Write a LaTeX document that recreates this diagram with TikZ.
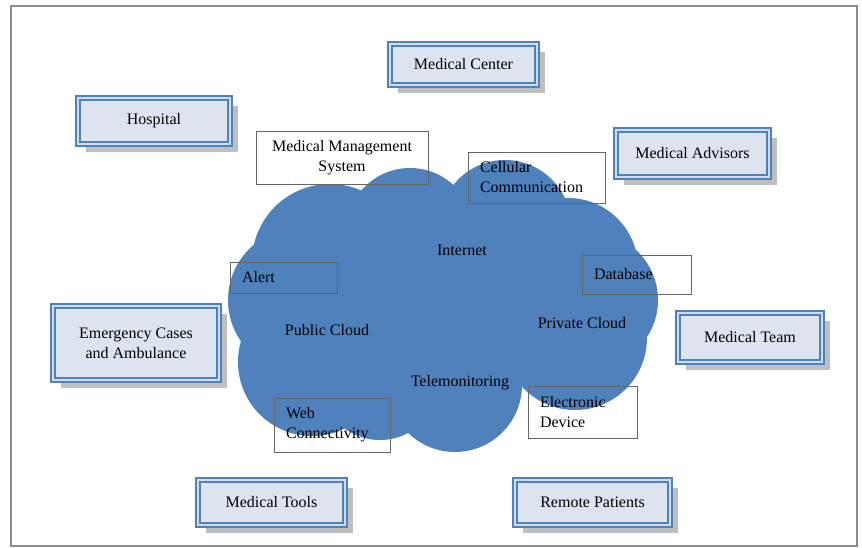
\documentclass[tikz,border=0pt]{standalone}
\usepackage{fontspec}
\setmainfont{Liberation Serif}
\usetikzlibrary{shadows}

\definecolor{cloudblue}{RGB}{79,129,189}
\definecolor{boxblue}{RGB}{79,129,189}
\definecolor{boxband}{RGB}{205,222,244}
\definecolor{boxfill}{RGB}{221,228,240}

\begin{document}
\begin{tikzpicture}[
    x=1pt, y=-1pt,
    every node/.style={font=\fontsize{16}{20}\selectfont, text=black},
    mainbox/.style={draw=boxblue, line width=1.8pt, double=boxband, double distance=2.4pt,
        fill=boxfill, align=center,
        drop shadow={shadow xshift=8pt, shadow yshift=-8pt, fill=black!25, opacity=1}},
    tagbox/.style={draw=black!60, line width=0.7pt, align=left, inner xsep=12pt, inner ysep=2pt},
    cloudtext/.style={inner sep=1pt}
]
\useasboundingbox (0,0) rectangle (862,548);
\draw[black!45, line width=1.5pt] (11,6) rectangle (857,546);

% the cloud as a union of puffs
\foreach \cx/\cy/\r in {330/262/78, 300/300/72, 410/232/64, 505/226/66, 568/268/70,
    590/300/68, 575/338/72, 455/385/67, 312/362/74, 450/300/105, 380/380/60}
    \fill[cloudblue] (\cx,\cy) circle[radius=\r];

\node[cloudtext] (internet) at (462,250) {Internet};
\node[cloudtext] (public) at (327,330) {Public Cloud};
\node[cloudtext] (private) at (582,323) {Private Cloud};
\node[cloudtext] (telemon) at (460,383) {Telemonitoring};

% labelled frames around the cloud
\node[tagbox, align=center, minimum width=172pt, minimum height=53pt] (mms) at (342,157.5) {Medical Management\\System};
\node[tagbox, text width=113pt, minimum height=51pt] (cellular) at (536.5,177.5) {Cellular\\Communication};
\node[tagbox, text width=83pt, minimum height=31pt] (alert) at (283.5,277.5) {Alert};
\node[tagbox, text width=85pt, minimum height=39pt] (database) at (636.5,274.5) {Database};
\node[tagbox, text width=92pt, minimum height=54pt] (web) at (332,425) {Web\\Connectivity};
\node[tagbox, text width=85pt, minimum height=52pt] (device) at (582.5,412) {Electronic\\Device};

% outer parties
\node[mainbox, minimum width=147pt, minimum height=41pt] (medcenter) at (463.5,64.5) {Medical Center};
\node[mainbox, minimum width=152pt, minimum height=46pt] (hospital) at (154,121) {Hospital};
\node[mainbox, minimum width=153pt, minimum height=47pt] (advisors) at (692.5,153.5) {Medical Advisors};
\node[mainbox, minimum width=166pt, minimum height=74pt] (emergency) at (136,343) {Emergency Cases\\and Ambulance};
\node[mainbox, minimum width=144pt, minimum height=49pt] (team) at (750,337.5) {Medical Team};
\node[mainbox, minimum width=147pt, minimum height=45pt] (tools) at (271.5,502.5) {Medical Tools};
\node[mainbox, minimum width=155pt, minimum height=45pt] (patients) at (592.5,502.5) {Remote Patients};
\end{tikzpicture}
\end{document}
